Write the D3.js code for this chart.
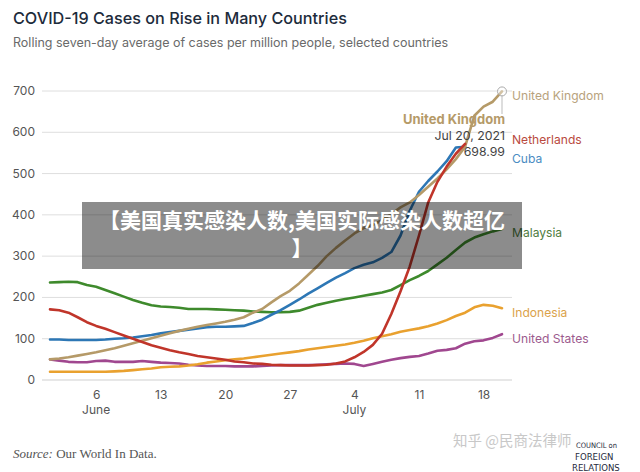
<!DOCTYPE html>
<html>
<head>
<meta charset="utf-8">
<script src="https://cdn.jsdelivr.net/npm/d3@7"></script>
<style>
  body { margin: 0; background: #fff; }
  svg { display: block; font-family: Inter, "Noto Sans", sans-serif; }
</style>
</head>
<body>
<svg width="640" height="472"></svg>
<script>
// rolling 7-day average, cases per million, Jun 1 - Jul 20 2021
var startDate = new Date(2021, 5, 1);

var unitedKingdom = [50,52,55,59,63,67,72,77,83,89,95,101,107,113,119,124,129,133,137,141,
  146,152,163,172,188,203,216,234,255,276,300,320,338,355,368,376,387,402,418,430,
  448,468,488,510,535,565,640,662,674,698.99];
var netherlands = [171,169,163,152,140,131,124,116,108,100,92,84,78,72,67,63,58,55,52,49,
  45,43,40,39,37,36,35,35,35,36,37,40,45,55,68,85,112,160,215,275,
  350,430,480,517,548,572];
var cuba = [98,98,97,97,97,97,98,100,101,103,106,109,113,116,119,122,125,128,129,129,
  130,131,138,146,158,169,182,195,209,222,235,248,259,271,279,285,296,310,350,410,
  456,482,505,530,563,565];
var malaysia = [236,237,238,237,230,226,218,210,202,194,187,181,178,177,175,172,172,172,171,170,
  169,168,166,165,164,164,165,168,175,182,187,192,196,200,204,208,212,218,230,242,
  252,264,280,296,315,333,345,353,360,366];
var indonesia = [20,20,20,20,20,20,20,21,22,24,26,28,31,32,33,35,38,42,45,48,
  50,52,55,58,61,64,67,70,74,77,80,83,86,90,95,101,106,111,117,121,
  125,130,137,145,155,163,176,182,180,174];
var unitedStates = [50,47,44,43,43,46,47,44,44,44,46,44,42,41,40,37,35,34,34,34,
  33,33,33,34,35,36,36,36,36,37,38,39,40,39,34,39,44,49,53,56,
  58,64,71,73,77,88,94,96,102,111];

var yTicks = [0, 100, 200, 300, 400, 500, 600, 700];

var series = [
  {name: "United States", values: unitedStates, color: "#a0478f", label: "#9c5a8e", ly: 338},
  {name: "Indonesia", values: indonesia, color: "#e9a12f", label: "#dba24a", ly: 312},
  {name: "Malaysia", values: malaysia, color: "#3e8a2c", label: "#4f7d3f", ly: 232},
  {name: "Cuba", values: cuba, color: "#2d77b5", label: "#4a8cc2", ly: 158},
  {name: "United Kingdom", values: unitedKingdom, color: "#b59a68", label: "#b8a27c", ly: 95},
  {name: "Netherlands", values: netherlands, color: "#c0352a", label: "#b94a3e", ly: 139}
];

var svg = d3.select("svg");

var x = d3.scaleTime()
  .domain([startDate, d3.timeDay.offset(startDate, 49)])
  .range([50, 502]);
var y = d3.scaleLinear().domain([0, 700]).range([380, 91]);

function dateAt(i) { return d3.timeDay.offset(startDate, i); }

// titles
svg.append("text").attr("x", 13).attr("y", 24)
  .attr("font-size", 16.2).attr("font-weight", 500).attr("fill", "#1d2b3b")
  .text("COVID-19 Cases on Rise in Many Countries");
svg.append("text").attr("x", 13).attr("y", 47)
  .attr("font-size", 12.5).attr("fill", "#6a6a6a")
  .text("Rolling seven-day average of cases per million people, selected countries");

// grid + y labels
var grid = svg.append("g");
grid.selectAll("line").data(yTicks).enter().append("line")
  .attr("x1", 42).attr("x2", 512)
  .attr("y1", function(d) { return y(d); })
  .attr("y2", function(d) { return y(d); })
  .attr("stroke", function(d) { return d == 0 ? "#cfcfcf" : "#dedede"; })
  .attr("stroke-width", 1);
grid.selectAll("text").data(yTicks).enter().append("text")
  .attr("x", 35).attr("y", function(d) { return y(d) + 4; })
  .attr("text-anchor", "end").attr("font-size", 12).attr("fill", "#555")
  .text(function(d) { return d; });

// x axis
var xAxis = d3.axisBottom(x)
  .ticks(d3.timeWeek.every(1))
  .tickSize(0)
  .tickFormat(d3.timeFormat("%-d"));
var xg = svg.append("g").attr("transform", "translate(0,383)").call(xAxis);
xg.select(".domain").remove();
xg.selectAll("text").attr("font-size", 12).attr("fill", "#555")
  .attr("font-family", "Inter, sans-serif").attr("dy", "1.05em");
var monthTicks = [new Date(2021, 5, 6), new Date(2021, 6, 4)];
svg.selectAll(".month").data(monthTicks).enter().append("text")
  .attr("class", "month")
  .attr("x", function(d) { return x(d); }).attr("y", 414)
  .attr("text-anchor", "middle").attr("font-size", 12).attr("fill", "#555")
  .text(d3.timeFormat("%B"));

// lines
var line = d3.line()
  .x(function(d, i) { return x(dateAt(i)); })
  .y(function(d) { return y(d); });

svg.append("g").selectAll("path").data(series).enter().append("path")
  .attr("d", function(s) { return line(s.values); })
  .attr("fill", "none")
  .attr("stroke", function(s) { return s.color; })
  .attr("stroke-width", 2.6)
  .attr("stroke-linejoin", "round")
  .attr("stroke-linecap", "round");

// right labels
svg.append("g").selectAll("text").data(series).enter().append("text")
  .attr("x", 512).attr("y", function(s) { return s.ly + 4.5; })
  .attr("font-size", 12.1)
  .attr("fill", function(s) { return s.label; })
  .text(function(s) { return s.name; });

// hover marker on UK
var lastI = unitedKingdom.length - 1;
var hx = x(dateAt(lastI)), hy = y(unitedKingdom[lastI]);
svg.append("line").attr("x1", hx).attr("x2", hx).attr("y1", hy + 4).attr("y2", 114)
  .attr("stroke", "#bbb").attr("stroke-width", 1);
svg.append("circle").attr("cx", hx).attr("cy", hy).attr("r", 4.5)
  .attr("fill", "#fff").attr("fill-opacity", 0.4).attr("stroke", "#aaa").attr("stroke-width", 1);
svg.append("text").attr("x", 505).attr("y", 124).attr("text-anchor", "end")
  .attr("font-size", 13).attr("font-weight", 700).attr("fill", "#b59a68")
  .text("United Kingdom");
svg.append("text").attr("x", 505).attr("y", 140).attr("text-anchor", "end")
  .attr("font-size", 12.3).attr("fill", "#444")
  .text(d3.timeFormat("%b %-d, %Y")(dateAt(lastI)));
svg.append("text").attr("x", 505).attr("y", 156).attr("text-anchor", "end")
  .attr("font-size", 12.3).attr("fill", "#444")
  .text(d3.format(".2f")(unitedKingdom[lastI]));

// source
var src = svg.append("text").attr("x", 13).attr("y", 458)
  .attr("font-family", "'Liberation Serif', serif").attr("font-size", 13).attr("fill", "#555");
src.append("tspan").attr("font-style", "italic").text("Source:");
src.append("tspan").text(" Our World In Data.");

// watermark
svg.append("text").attr("x", 453).attr("y", 446)
  .attr("font-family", "'Noto Sans CJK SC', sans-serif").attr("font-size", 14.5)
  .attr("fill", "#c8c8c8").text("知乎 @民商法律师");

// CFR logo text
var cfr = svg.append("g").attr("font-family", "'DejaVu Sans Condensed', 'Liberation Sans Narrow', sans-serif")
  .attr("fill", "#1f2b3d").attr("font-size", 9.5);
cfr.append("text").attr("x", 576).attr("y", 448).attr("font-size", 7.5).text("COUNCIL on");
cfr.append("text").attr("x", 575).attr("y", 460).text("FOREIGN");
cfr.append("text").attr("x", 572).attr("y", 471).text("RELATIONS");

// overlay banner
svg.append("rect").attr("x", 82).attr("y", 202).attr("width", 440).attr("height", 67)
  .attr("fill", "#000").attr("fill-opacity", 0.45);
var banner = svg.append("g").attr("font-family", "'Noto Sans CJK SC', sans-serif")
  .attr("font-size", 21).attr("font-weight", 700).attr("fill", "#fff").attr("text-anchor", "middle");
banner.append("text").attr("x", 302).attr("y", 228).text("【美国真实感染人数,美国实际感染人数超亿");
banner.append("text").attr("x", 302).attr("y", 256).text("】");
</script>
</body>
</html>
